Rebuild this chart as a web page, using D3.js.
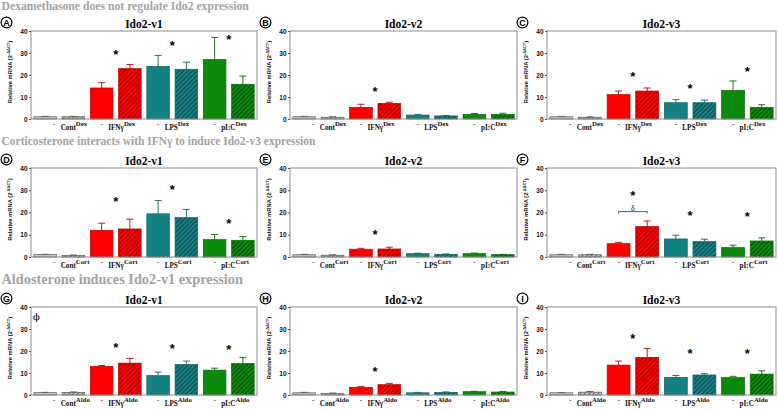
<!DOCTYPE html>
<html><head><meta charset="utf-8">
<script src="https://cdn.jsdelivr.net/npm/d3@7"></script>
<style>body{margin:0;background:#fff} svg{display:block}</style>
</head><body>
<svg id="c" width="778" height="410"></svg>
<script>
// ---------------- data ----------------
const groups = ["Cont", "IFNγ", "LPS", "pI:C"];
const rowTreatments = ["Dex", "Cort", "Aldo"];
const rowHeadings = [
  "Dexamethasone does not regulate Ido2 expression",
  "Corticosterone interacts with IFNγ to induce Ido2-v3 expression",
  "Aldosterone induces Ido2-v1 expression"
];
const panelLetters = ["A","B","C","D","E","F","G","H","I"];
const panelTitles = ["Ido2-v1","Ido2-v2","Ido2-v3","Ido2-v1","Ido2-v2","Ido2-v3","Ido2-v1","Ido2-v2","Ido2-v3"];
const yTicks = [0, 10, 20, 30, 40];

// bar order per group: [ "-", treatment ]
const meanA = [1.0, 1.0, 14.1, 22.9, 23.9, 22.6, 27.0, 15.8];
const semA  = [0.2, 0.2, 2.4, 1.9, 5.0, 3.2, 10.1, 3.7];
const starA = [null, 30.6, 34.7, 37.4];
const meanB = [1.0, 0.8, 5.3, 7.1, 1.8, 1.4, 2.1, 2.1];
const semB  = [0.2, 0.2, 1.4, 0.5, 0.3, 0.2, 0.4, 0.5];
const starB = [null, 13.6, null, null];
const meanC = [1.0, 0.8, 11.1, 12.7, 7.4, 7.4, 13.0, 5.3];
const semC  = [0.2, 0.2, 1.6, 1.4, 1.4, 1.2, 4.3, 1.2];
const starC = [null, 20.5, 15.0, 22.7];
const meanD = [1.05, 0.75, 12.0, 12.6, 19.4, 17.7, 7.8, 7.5];
const semD  = [0.15, 0.15, 3.2, 4.4, 6.0, 3.7, 2.3, 1.7];
const starD = [null, 26.2, 31.7, 16.2];
const meanE = [1.0, 0.8, 3.5, 3.6, 1.5, 1.2, 1.5, 1.05];
const semE  = [0.2, 0.2, 0.4, 0.8, 0.2, 0.2, 0.3, 0.15];
const starE = [null, 11.4, null, null];
const meanF = [1.0, 1.0, 6.0, 13.7, 8.1, 6.9, 4.2, 7.2];
const semF  = [0.2, 0.2, 0.6, 2.5, 1.7, 1.1, 1.1, 1.4];
const starF = [null, 28.7, 20.0, 19.5];
const meanG = [1.05, 1.2, 13.0, 14.5, 8.8, 13.9, 11.3, 14.3];
const semG  = [0.15, 0.2, 0.4, 2.1, 1.6, 1.5, 0.9, 2.8];
const starG = [null, 22.6, 22.2, 22.0];
const meanH = [1.0, 0.7, 3.5, 4.7, 1.0, 1.2, 1.5, 1.35];
const semH  = [0.2, 0.2, 0.4, 0.6, 0.2, 0.2, 0.2, 0.25];
const starH = [null, 11.8, null, null];
const meanI = [1.0, 1.3, 13.6, 17.1, 8.0, 9.1, 7.9, 9.5];
const semI  = [0.1, 0.3, 1.8, 4.0, 0.9, 0.6, 0.6, 1.5];
const starI = [null, 26.9, 19.9, 19.9];

// extra annotations (data units)
const deltaF = {group: 1, bracket: 20.4, label: 22.0, text: "δ"};
const phiG = {value: 35.5, text: "ϕ"};

const panelMeans = [meanA, meanB, meanC, meanD, meanE, meanF, meanG, meanH, meanI];
const panelSems  = [semA, semB, semC, semD, semE, semF, semG, semH, semI];
const panelStars = [starA, starB, starC, starD, starE, starF, starG, starH, starI];

// ---------------- style / layout ----------------
const fills  = ["#c6c6c6", "#ff0000", "#148282", "#0b8a0b"];
const hatchC = ["#6e6e6e", "#9e0000", "#0a4550", "#044d04"];
const edges  = ["#5a5a5a", "#c00000", "#0d6464", "#076a07"];
const colX = [[31, 257], [290, 517], [547, 776]];
const rowY = [[31, 119], [168, 257], [307, 395]];
const headingBase = [10, 144.5, 283.5];
const headingSize = [11.7, 11.5, 14.3];
const serif = "'Liberation Serif','Times New Roman',serif";
const sans = "'Liberation Sans',Arial,sans-serif";

const svg = d3.select("#c");
const defs = svg.append("defs");
fills.forEach((f, i) => {
  const p = defs.append("pattern").attr("id", "h" + i)
    .attr("patternUnits", "userSpaceOnUse").attr("width", 3.2).attr("height", 3.2)
    .attr("patternTransform", "rotate(45)");
  p.append("rect").attr("width", 3.2).attr("height", 3.2).attr("fill", f);
  p.append("line").attr("x1", 0.6).attr("x2", 0.6).attr("y1", 0).attr("y2", 3.2)
    .attr("stroke", hatchC[i]).attr("stroke-width", 1.1);
});

// headings
rowHeadings.forEach((h, r) => {
  svg.append("text").attr("x", 1.5).attr("y", headingBase[r])
    .attr("fill", "#a3a3a3").attr("font-family", serif).attr("font-weight", "bold")
    .style("font-size", headingSize[r] + "px").text(h);
});

panelMeans.forEach((means, k) => {
  const r = Math.floor(k / 3), c = k % 3;
  const [x0, x1] = colX[c], [y0, y1] = rowY[r];
  const sems = panelSems[k], stars = panelStars[k];
  const g = svg.append("g");
  const x = d3.scaleBand().domain(d3.range(8)).range([x0, x1]).paddingInner(0.2).paddingOuter(0.1);
  const y = d3.scaleLinear().domain([0, 40]).range([y1, y0]);

  // bars
  const data = means.map((m, i) => ({i, m, s: sems[i], grp: Math.floor(i / 2), tr: i % 2}));
  g.selectAll("rect.bar").data(data).enter().append("rect")
    .attr("x", d => x(d.i)).attr("width", x.bandwidth())
    .attr("y", d => y(d.m)).attr("height", d => y(0) - y(d.m))
    .attr("fill", d => d.tr ? `url(#h${d.grp})` : fills[d.grp])
    .attr("stroke", d => edges[d.grp]).attr("stroke-width", 0.7);

  // error bars (upper only)
  const cap = 3.5;
  data.forEach(d => {
    const cx = x(d.i) + x.bandwidth() / 2;
    g.append("line").attr("x1", cx).attr("x2", cx).attr("y1", y(d.m)).attr("y2", y(d.m + d.s))
      .attr("stroke", edges[d.grp]).attr("stroke-width", 0.9);
    g.append("line").attr("x1", cx - cap).attr("x2", cx + cap).attr("y1", y(d.m + d.s)).attr("y2", y(d.m + d.s))
      .attr("stroke", edges[d.grp]).attr("stroke-width", 0.9);
  });

  // frame
  g.append("rect").attr("x", x0).attr("y", y0).attr("width", x1 - x0).attr("height", y1 - y0)
    .attr("fill", "none").attr("stroke", "#8c8c8c").attr("stroke-width", 1);

  // y axis
  const ax = g.append("g").attr("transform", `translate(${x0},0)`)
    .call(d3.axisLeft(y).tickValues(yTicks).tickSize(2).tickPadding(1.5));
  ax.select(".domain").remove();
  ax.selectAll(".tick line").attr("stroke", "#555");
  ax.selectAll(".tick text").attr("font-family", sans).attr("font-weight", "bold")
    .attr("font-size", 6.5).attr("fill", "#111");

  // y label
  const yl = g.append("text").attr("transform", `translate(${x0 - 19},${(y0 + y1) / 2 - 3}) rotate(-90)`)
    .attr("text-anchor", "middle").attr("font-family", sans).attr("font-weight", "bold")
    .attr("font-size", 5.8).attr("fill", "#111");
  yl.append("tspan").text("Relative mRNA (2");
  yl.append("tspan").attr("font-size", 4).attr("dy", -2.2).text("-ΔΔCT");
  yl.append("tspan").attr("dy", 2.2).text(")");

  // title
  g.append("text").attr("x", (x0 + x1) / 2).attr("y", y0 - 3.5).attr("text-anchor", "middle")
    .attr("font-family", serif).attr("font-weight", "bold").attr("font-size", 11.5)
    .attr("fill", "#000").text(panelTitles[k]);

  // panel letter
  const lx = x0 - 24.5, ly = y0 - 8.5;
  g.append("circle").attr("cx", lx).attr("cy", ly).attr("r", 5.4)
    .attr("fill", "#fff").attr("stroke", "#000").attr("stroke-width", 1.2);
  g.append("text").attr("x", lx).attr("y", ly + 3.2).attr("text-anchor", "middle")
    .attr("font-family", sans).attr("font-weight", "bold").attr("font-size", 9)
    .text(panelLetters[k]);

  // x labels
  groups.forEach((name, gi) => {
    const dashX = x(gi * 2) + x.bandwidth() / 2 + (gi === 0 ? 9 : 0);
    g.append("text").attr("x", dashX).attr("y", y1 + 7).attr("text-anchor", "middle")
      .attr("font-family", serif).attr("font-weight", "bold").attr("font-size", 7).text("-");
    const t = g.append("text").attr("x", dashX + 6.5).attr("y", y1 + 10.5)
      .attr("font-family", serif).attr("font-weight", "bold").attr("font-size", 7.2).attr("fill", "#111");
    t.append("tspan").text(name);
    t.append("tspan").attr("dy", -3.8).attr("font-size", 6.8).text(rowTreatments[r]);
  });

  // stars
  const starSize = 13;
  stars.forEach((s, gi) => {
    if (s == null) return;
    const cx = (x(gi * 2) + x(gi * 2 + 1) + x.bandwidth()) / 2;
    g.append("text").attr("x", cx).attr("y", y(s) + 0.55 * starSize).attr("text-anchor", "middle")
      .attr("font-family", sans).attr("font-weight", "bold").attr("font-size", starSize)
      .attr("fill", "#000").text("*");
  });

  // delta bracket in F
  if (k === 5) {
    const a = x(deltaF.group * 2) + x.bandwidth() / 2, b = x(deltaF.group * 2 + 1) + x.bandwidth() / 2;
    const yy = y(deltaF.bracket);
    g.append("path").attr("d", `M${a},${yy + 2}V${yy}H${b}V${yy + 2}`)
      .attr("fill", "none").attr("stroke", "#333").attr("stroke-width", 0.8);
    g.append("text").attr("x", (a + b) / 2).attr("y", y(deltaF.label) + 2.8).attr("text-anchor", "middle")
      .attr("font-family", serif).attr("font-size", 8).attr("fill", "#000").text(deltaF.text);
  }
  // phi in G
  if (k === 6) {
    g.append("text").attr("x", x0 + 5.5).attr("y", y(phiG.value) + 3.5).attr("text-anchor", "middle")
      .attr("font-family", "'DejaVu Serif',serif").attr("font-size", 10).attr("fill", "#000").text(phiG.text);
  }
});
</script>
</body></html>
